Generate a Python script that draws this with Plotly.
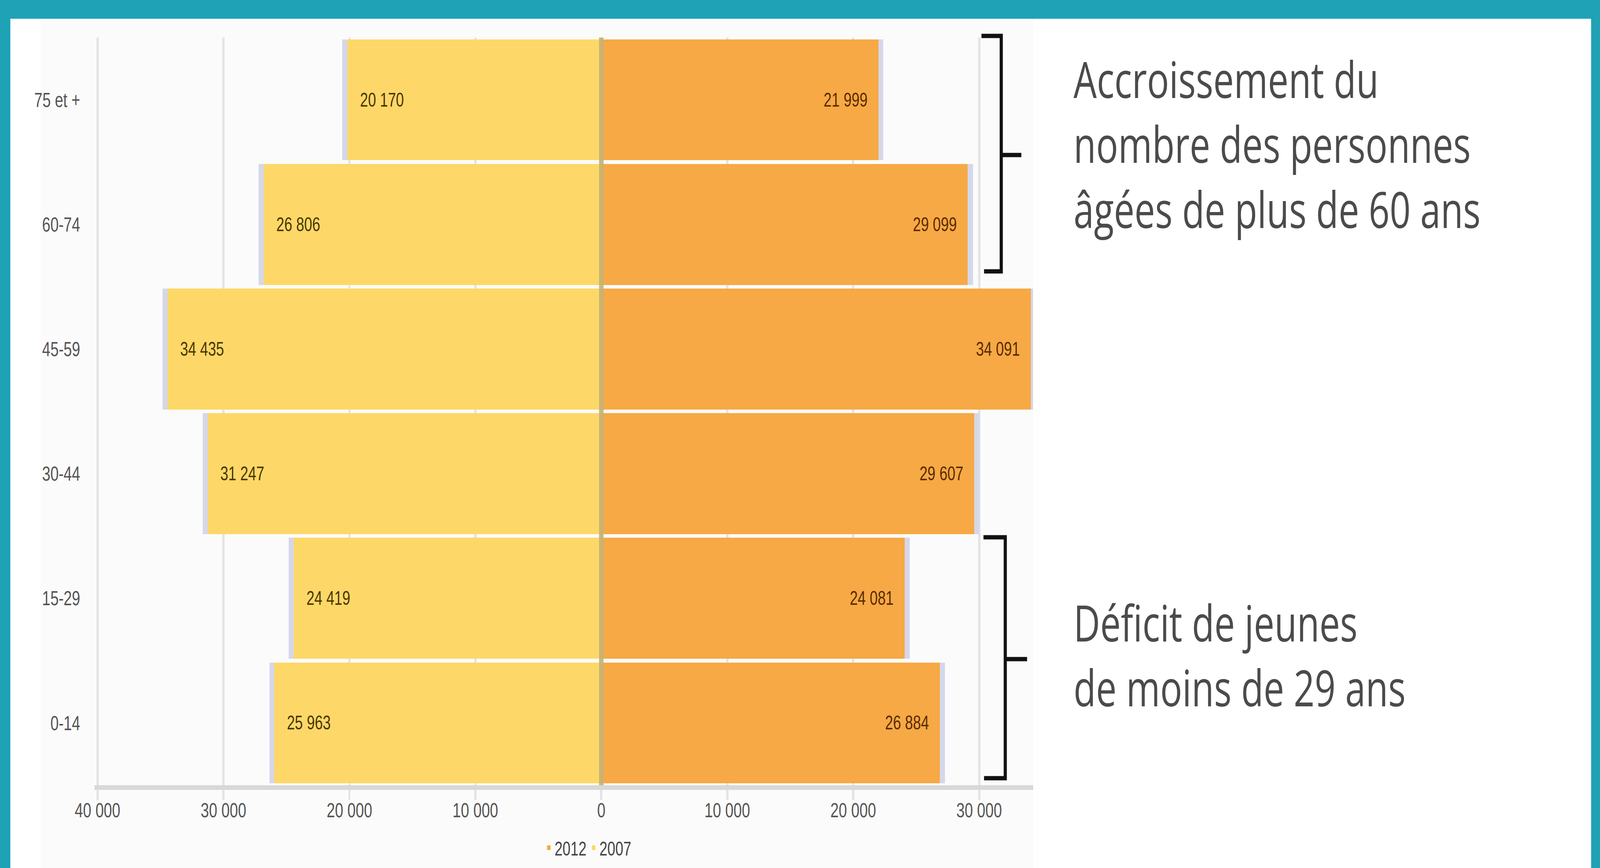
import plotly.graph_objects as go

# ---------------- data ----------------
categories = ["0-14", "15-29", "30-44", "45-59", "60-74", "75 et +"]
pop_2007 = [25963, 24419, 31247, 34435, 26806, 20170]
pop_2012 = [26884, 24081, 29607, 34091, 29099, 21999]
tick_values = [-40000, -30000, -20000, -10000, 0, 10000, 20000, 30000]
tick_labels = ["40 000", "30 000", "20 000", "10 000", "0", "10 000", "20 000", "30 000"]
series_names = ["2012", "2007"]
note_top = "Accroissement du<br>nombre des personnes<br>âgées de plus de 60 ans"
note_bottom = "Déficit de jeunes<br>de moins de 29 ans"

# ---------------- geometry / style ----------------
W, H = 5577, 2223
L, R, T, B = 329, 3601, 96, 2011
NARROW = "Liberation Sans Narrow, Arial Narrow, Liberation Sans, Arial, sans-serif"
C_2007 = "#fdd868"
C_2012 = "#f6a944"
C_SHADOW = "#d5d7ea"
SHADOW_PAD = 400
BAR_W = 0.97


def px(x):
    return (x - L) / (R - L)


def py(y):
    return (B - y) / (B - T)


def fmt(v):
    return "{:,}".format(v).replace(",", " ")


fig = go.Figure()

# soft shadows behind the bars
fig.add_bar(y=categories, x=[-(v + SHADOW_PAD) for v in pop_2007], orientation="h",
            marker=dict(color=C_SHADOW, line_width=0), width=BAR_W,
            showlegend=False, hoverinfo="skip")
fig.add_bar(y=categories, x=[v + SHADOW_PAD for v in pop_2012], orientation="h",
            marker=dict(color=C_SHADOW, line_width=0), width=BAR_W,
            showlegend=False, hoverinfo="skip")

# main bars
fig.add_bar(y=categories, x=pop_2012, orientation="h", name=series_names[0],
            marker=dict(color=C_2012, line_width=0), width=BAR_W)
fig.add_bar(y=categories, x=[-v for v in pop_2007], orientation="h", name=series_names[1],
            marker=dict(color=C_2007, line_width=0), width=BAR_W)

annotations = []
for c, v in zip(categories, pop_2007):
    annotations.append(dict(x=-v, y=c, xref="x", yref="y", text=fmt(v), showarrow=False,
                            xanchor="left", xshift=42,
                            font=dict(size=50, color="#4a3500", family=NARROW)))
for c, v in zip(categories, pop_2012):
    annotations.append(dict(x=v, y=c, xref="x", yref="y", text=fmt(v), showarrow=False,
                            xanchor="right", xshift=-36,
                            font=dict(size=50, color="#5a2a00", family=NARROW)))

annotations.append(dict(x=px(3740), y=py(112), xref="paper", yref="paper", text=note_top,
                        showarrow=False, xanchor="left", yanchor="top", align="left",
                        font=dict(size=128, color="#4b4b4b", family="Open Sans")))
annotations.append(dict(x=px(3740), y=py(1504), xref="paper", yref="paper", text=note_bottom,
                        showarrow=False, xanchor="left", yanchor="top", align="left",
                        font=dict(size=128, color="#4b4b4b", family="Open Sans")))


def brace(x_left_top, x_left_bot, x_spine, y_top, y_bot, y_tip, x_tip):
    return (f"M {px(x_left_top)},{py(y_top)} L {px(x_spine)},{py(y_top)} "
            f"L {px(x_spine)},{py(y_bot)} L {px(x_left_bot)},{py(y_bot)} "
            f"M {px(x_spine)},{py(y_tip)} L {px(x_tip)},{py(y_tip)}")


shapes = [
    dict(type="rect", xref="paper", yref="paper", x0=px(36), x1=px(5546), y0=py(2400), y1=py(48),
         fillcolor="#ffffff", line_width=0, layer="below"),
    dict(type="rect", xref="paper", yref="paper", x0=px(141), x1=px(3601), y0=py(2400), y1=py(48),
         fillcolor="#fbfbfb", line_width=0, layer="below"),
    dict(type="line", xref="x", yref="paper", x0=0, x1=0, y0=0, y1=1,
         line=dict(color="rgba(196,178,116,0.9)", width=16), layer="above"),
    dict(type="path", xref="paper", yref="paper",
         path=brace(3421, 3430, 3490, 92, 695, 397, 3560),
         line=dict(color="#111111", width=11)),
    dict(type="path", xref="paper", yref="paper",
         path=brace(3428, 3430, 3504, 1376, 1993, 1688, 3580),
         line=dict(color="#111111", width=11)),
]

fig.update_layout(
    width=W, height=H,
    margin=dict(l=L, r=W - R, t=T, b=H - B, autoexpand=False),
    paper_bgcolor="#1fa2b6",
    plot_bgcolor="rgba(0,0,0,0)",
    barmode="overlay",
    bargap=0,
    showlegend=True,
    legend=dict(orientation="h", x=px(1893), y=py(2132), xanchor="left", yanchor="top",
                font=dict(size=50, color="#444444", family=NARROW),
                bgcolor="rgba(0,0,0,0)", traceorder="normal"),
    xaxis=dict(range=[-40250, 34282], tickvals=tick_values, ticktext=tick_labels,
               showgrid=True, gridcolor="#e4e4e4", gridwidth=8, zeroline=False,
               showline=True, linecolor="#d8d8d8", linewidth=12,
               ticks="outside", ticklen=26, tickwidth=8, tickcolor="#e4e4e4",
               ticklabelstandoff=-18,
               tickfont=dict(size=52, color="#555555", family=NARROW), fixedrange=True),
    yaxis=dict(type="category", categoryorder="array", categoryarray=categories,
               showgrid=False, zeroline=False, showline=False,
               ticks="outside", ticklen=38, tickcolor="rgba(0,0,0,0)",
               tickfont=dict(size=52, color="#555555", family=NARROW), fixedrange=True),
    annotations=annotations,
    shapes=shapes,
)

# keep the whole 5577x2223 figure visible even if the browser viewport is smaller
post = (
    "var gd=document.getElementById('{plot_id}');"
    "var sx=Math.min(1, window.innerWidth/" + str(W) + ");"
    "var sy=Math.min(1, window.innerHeight/" + str(H) + ");"
    "document.documentElement.style.overflow='hidden';"
    "document.body.style.margin='0';document.body.style.overflow='hidden';"
    "gd.style.transformOrigin='0 0';gd.style.transform='scale('+sx+','+sy+')';"
)
fig.write_html("out.html", post_script=post, config={"displayModeBar": False})
